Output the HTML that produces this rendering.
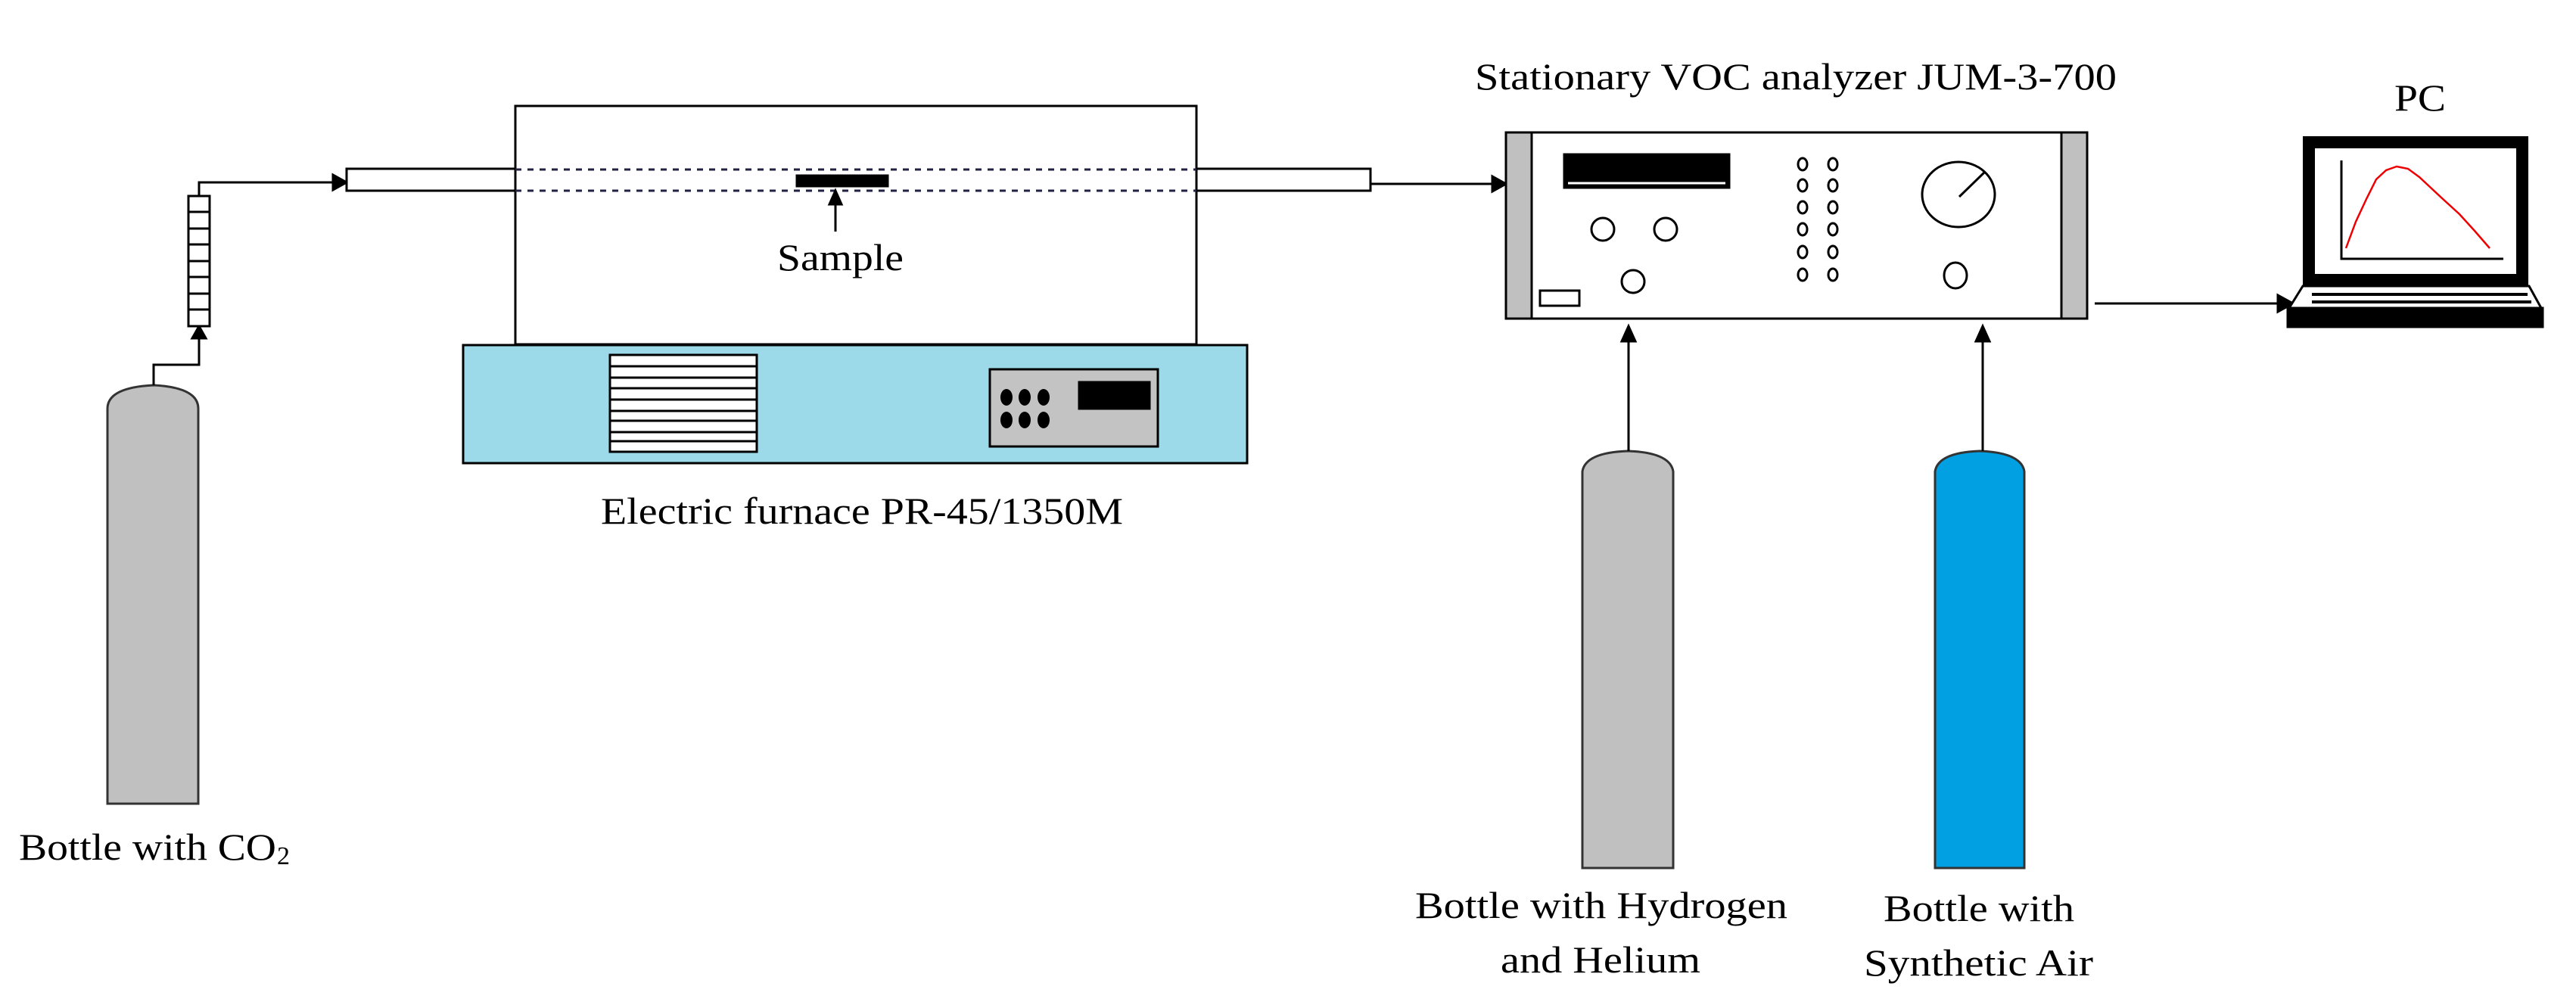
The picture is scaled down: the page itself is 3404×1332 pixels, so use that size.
<!DOCTYPE html>
<html><head><meta charset="utf-8"><style>
html,body{margin:0;padding:0;background:#fff;}
svg{display:block;}
text{font-family:"Liberation Serif",serif;fill:#000;}
</style></head><body>
<svg width="3404" height="1332" viewBox="0 0 3404 1332" xmlns="http://www.w3.org/2000/svg">
<g stroke="#000" stroke-width="3" fill="none">
<path d="M142,1062 L142,540 Q142,512 203,509 Q262,512 262,540 L262,1062 Z" fill="#c0c0c0" stroke="#333"/>
<polyline points="203,509 203,482 263,482 263,445"/>
<polygon points="254,447 272,447 263,431" fill="#000"/>
<rect x="249" y="259" width="28" height="172" fill="#fff"/>
<line x1="249" y1="280" x2="277" y2="280"/><line x1="249" y1="302" x2="277" y2="302"/>
<line x1="249" y1="323" x2="277" y2="323"/><line x1="249" y1="345" x2="277" y2="345"/>
<line x1="249" y1="366" x2="277" y2="366"/><line x1="249" y1="388" x2="277" y2="388"/>
<line x1="249" y1="409" x2="277" y2="409"/>
<polyline points="263,259 263,241 440,241"/>
<polygon points="440,231 440,251 458,241" fill="#000"/>
<rect x="681" y="140" width="900" height="315" fill="#fff"/>
<rect x="458" y="223" width="223" height="29" fill="#fff"/>
<rect x="1581" y="223" width="230" height="29" fill="#fff"/>
<line x1="681" y1="224" x2="1581" y2="224" stroke-dasharray="8,8" stroke="#224"/>
<line x1="681" y1="252" x2="1581" y2="252" stroke-dasharray="8,8" stroke="#224"/>
<rect x="1053" y="232" width="120" height="14" fill="#000"/>
<line x1="1104" y1="306" x2="1104" y2="268"/>
<polygon points="1096,270 1112,270 1104,252" fill="#000"/>
<rect x="612" y="456" width="1036" height="156" fill="#9cd9e9"/>
<rect x="806" y="469" width="194" height="128" fill="#fff"/>
<line x1="806" y1="484" x2="1000" y2="484"/><line x1="806" y1="499" x2="1000" y2="499"/>
<line x1="806" y1="513" x2="1000" y2="513"/><line x1="806" y1="528" x2="1000" y2="528"/>
<line x1="806" y1="543" x2="1000" y2="543"/><line x1="806" y1="556" x2="1000" y2="556"/>
<line x1="806" y1="571" x2="1000" y2="571"/><line x1="806" y1="583" x2="1000" y2="583"/>
<rect x="1308" y="488" width="222" height="102" fill="#c3c3c3"/>
<rect x="1426" y="505" width="93" height="35" fill="#000"/>
</g>
<g fill="#000">
<ellipse cx="1330" cy="525" rx="8" ry="11"/><ellipse cx="1354" cy="525" rx="8" ry="11"/><ellipse cx="1379" cy="525" rx="8" ry="11"/>
<ellipse cx="1330" cy="555" rx="8" ry="11"/><ellipse cx="1354" cy="555" rx="8" ry="11"/><ellipse cx="1379" cy="555" rx="8" ry="11"/>
</g>
<g stroke="#000" stroke-width="3" fill="none">
<line x1="1811" y1="243" x2="1972" y2="243"/>
<polygon points="1972,233 1972,253 1990,243" fill="#000"/>
<rect x="1990" y="175" width="768" height="246" fill="#fff"/>
<rect x="1990" y="175" width="34" height="246" fill="#c0c0c0"/>
<rect x="2724" y="175" width="34" height="246" fill="#c0c0c0"/>
<rect x="2035" y="384" width="52" height="20" fill="#fff"/>
<rect x="2067" y="204" width="218" height="44" fill="#000"/>
<line x1="2072" y1="242" x2="2280" y2="242" stroke="#fff"/>
<ellipse cx="2118" cy="303" rx="15" ry="15"/>
<ellipse cx="2201" cy="303" rx="15" ry="15"/>
<ellipse cx="2158" cy="372" rx="15" ry="15"/>
<ellipse cx="2382" cy="217" rx="6" ry="8"/><ellipse cx="2422" cy="217" rx="6" ry="8"/>
<ellipse cx="2382" cy="245" rx="6" ry="8"/><ellipse cx="2422" cy="245" rx="6" ry="8"/>
<ellipse cx="2382" cy="274" rx="6" ry="8"/><ellipse cx="2422" cy="274" rx="6" ry="8"/>
<ellipse cx="2382" cy="303" rx="6" ry="8"/><ellipse cx="2422" cy="303" rx="6" ry="8"/>
<ellipse cx="2382" cy="333" rx="6" ry="8"/><ellipse cx="2422" cy="333" rx="6" ry="8"/>
<ellipse cx="2382" cy="363" rx="6" ry="8"/><ellipse cx="2422" cy="363" rx="6" ry="8"/>
<ellipse cx="2588" cy="257" rx="48" ry="43"/>
<line x1="2589" y1="260" x2="2622" y2="228"/>
<ellipse cx="2584" cy="364" rx="15" ry="17"/>
<line x1="2768" y1="401" x2="3012" y2="401"/>
<polygon points="3010,390 3010,412 3030,401" fill="#000"/>
<rect x="3051" y="188" width="282" height="182" fill="#fff" stroke="#000" stroke-width="16"/>
<polygon points="3043,378 3342,378 3358,407 3025,407" fill="#fff"/>
<line x1="3055" y1="389" x2="3340" y2="389" stroke-width="4"/>
<line x1="3055" y1="399" x2="3345" y2="399" stroke-width="4"/>
<rect x="3023" y="407" width="337" height="25" fill="#000"/>
<polyline points="3094,212 3094,342 3308,342"/>
<polyline points="3100,328 3113,293 3127,263 3140,237 3153,225 3167,220 3182,223 3197,234 3212,248 3227,262 3250,283 3270,305 3290,328" stroke="#e00" stroke-width="2.5"/>
<path d="M2091,1147 L2091,623 Q2095,598 2151,596 Q2207,598 2211,623 L2211,1147 Z" fill="#c0c0c0" stroke="#333"/>
<line x1="2152" y1="596" x2="2152" y2="449"/>
<polygon points="2143,451 2161,451 2152,431" fill="#000"/>
<path d="M2557,1147 L2557,623 Q2561,598 2616,596 Q2671,598 2675,623 L2675,1147 Z" fill="#00a0e3" stroke="#333"/>
<line x1="2620" y1="596" x2="2620" y2="449"/>
<polygon points="2611,451 2629,451 2620,431" fill="#000"/>
</g>
<g font-size="50">
<text x="1027" y="357" textLength="167" lengthAdjust="spacingAndGlyphs">Sample</text>
<text x="794" y="692" textLength="690" lengthAdjust="spacingAndGlyphs">Electric furnace PR-45/1350M</text>
<text x="25" y="1136" textLength="340" lengthAdjust="spacingAndGlyphs">Bottle with CO</text>
<text x="366" y="1142" font-size="34">2</text>
<text x="1949" y="118" textLength="848" lengthAdjust="spacingAndGlyphs">Stationary VOC analyzer JUM-3-700</text>
<text x="3164" y="146" textLength="68" lengthAdjust="spacingAndGlyphs">PC</text>
<text x="1870" y="1213" textLength="492" lengthAdjust="spacingAndGlyphs">Bottle with Hydrogen</text>
<text x="1983" y="1285" textLength="264" lengthAdjust="spacingAndGlyphs">and Helium</text>
<text x="2489" y="1217" textLength="252" lengthAdjust="spacingAndGlyphs">Bottle with</text>
<text x="2463" y="1289" textLength="303" lengthAdjust="spacingAndGlyphs">Synthetic Air</text>
</g>
</svg>
</body></html>
